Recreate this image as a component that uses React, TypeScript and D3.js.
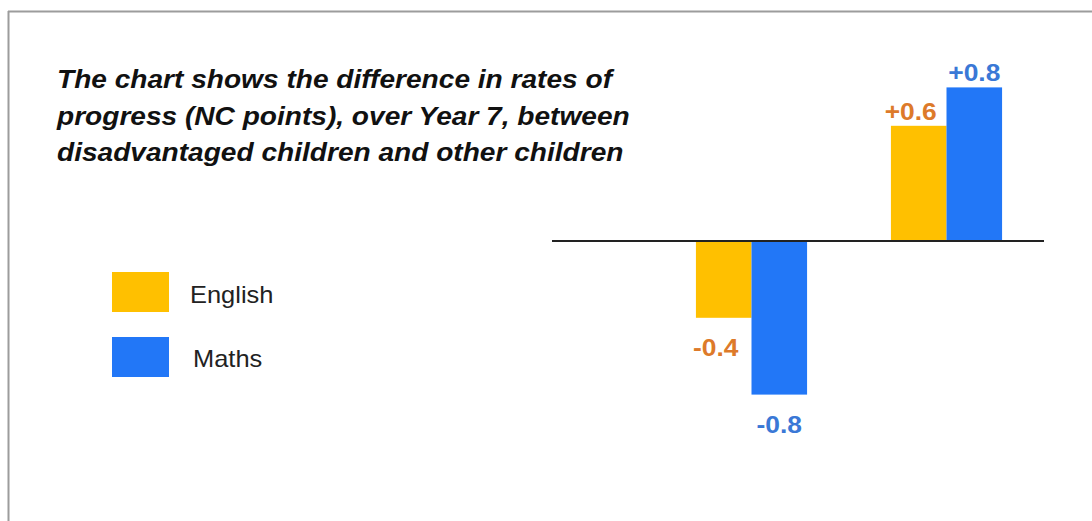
import React from "react";
import * as d3 from "d3";

// Groups along the horizontal axis (no axis labels are drawn)
const groups = ["before", "after"];
const seriesNames = ["English", "Maths"];
const englishValues = [-0.4, 0.6];
const mathsValues = [-0.8, 0.8];
const valueLabels = [
  ["-0.4", "+0.6"],
  ["-0.8", "+0.8"],
];
const titleLines = [
  "The chart shows the difference in rates of",
  "progress (NC points), over Year 7, between",
  "disadvantaged children and other children",
];

const W = 1092;
const H = 521;
const barColors = ["#FFC000", "#2277F7"];
const labelColors = ["#DD7A2A", "#3A78D6"];
const labelShift = [-8, 0];
const FONT = "'Liberation Sans', Arial, sans-serif";
const STRETCH = 1.1;

export default function App() {
  const series = [englishValues, mathsValues];

  const y = d3.scaleLinear().domain([-1, 1]).range([241 + 192, 241 - 192]);
  const x0 = d3
    .scaleBand<string>()
    .domain(groups)
    .range([654, 1044])
    .paddingInner(0.43)
    .paddingOuter(0.215);
  const x1 = d3
    .scaleBand<string>()
    .domain(seriesNames)
    .range([0, x0.bandwidth()])
    .padding(0);

  const zeroY = y(0);

  return (
    <div style={{ position: "absolute", left: 0, top: 0 }}>
      <svg width={W} height={H} style={{ display: "block", background: "#fff" }}>
        {/* frame edges */}
        <line x1={8} x2={W} y1={11.5} y2={11.5} stroke="#9c9c9c" strokeWidth={2} />
        <line x1={8.5} x2={8.5} y1={11} y2={H} stroke="#9c9c9c" strokeWidth={2} />

        {/* title */}
        <g fontFamily={FONT} fontWeight="bold" fontStyle="italic" fontSize={25.2} fill="#111">
          {titleLines.map((t, i) => (
            <text key={i} transform={`translate(57,${88 + i * 36.5}) scale(1.115,1)`}>
              {t}
            </text>
          ))}
        </g>

        {/* legend */}
        <g fontFamily={FONT} fontSize={24} fill="#222">
          {seriesNames.map((name, i) => (
            <g key={name}>
              <rect x={112} y={272 + i * 65} width={57} height={40} fill={barColors[i]} />
              <text transform={`translate(${190 + i * 3},${303 + i * 64}) scale(1.06,1)`}>{name}</text>
            </g>
          ))}
        </g>

        {/* bars */}
        {groups.map((g, gi) => (
          <g key={g} transform={`translate(${x0(g)},0)`}>
            {seriesNames.map((s, si) => {
              const v = series[si][gi];
              const top = Math.min(y(v), zeroY);
              const h = Math.abs(y(v) - zeroY);
              return (
                <rect
                  key={s}
                  x={x1(s)}
                  y={top}
                  width={x1.bandwidth()}
                  height={h}
                  fill={barColors[si]}
                />
              );
            })}
          </g>
        ))}

        {/* zero line */}
        <line x1={552} x2={1044} y1={zeroY} y2={zeroY} stroke="#222" strokeWidth={2} />

        {/* value labels */}
        <g fontFamily={FONT} fontWeight="bold" fontSize={24}>
          {groups.map((g, gi) =>
            seriesNames.map((s, si) => {
              const v = series[si][gi];
              const cx = (x0(g) ?? 0) + (x1(s) ?? 0) + x1.bandwidth() / 2 + labelShift[si];
              const by = v >= 0 ? y(v) - 6 : y(v) + 38;
              return (
                <text
                  key={`${g}-${s}`}
                  transform={`translate(${cx},${by}) scale(${STRETCH},1)`}
                  textAnchor="middle"
                  fill={labelColors[si]}
                >
                  {valueLabels[si][gi]}
                </text>
              );
            })
          )}
        </g>
      </svg>
    </div>
  );
}
